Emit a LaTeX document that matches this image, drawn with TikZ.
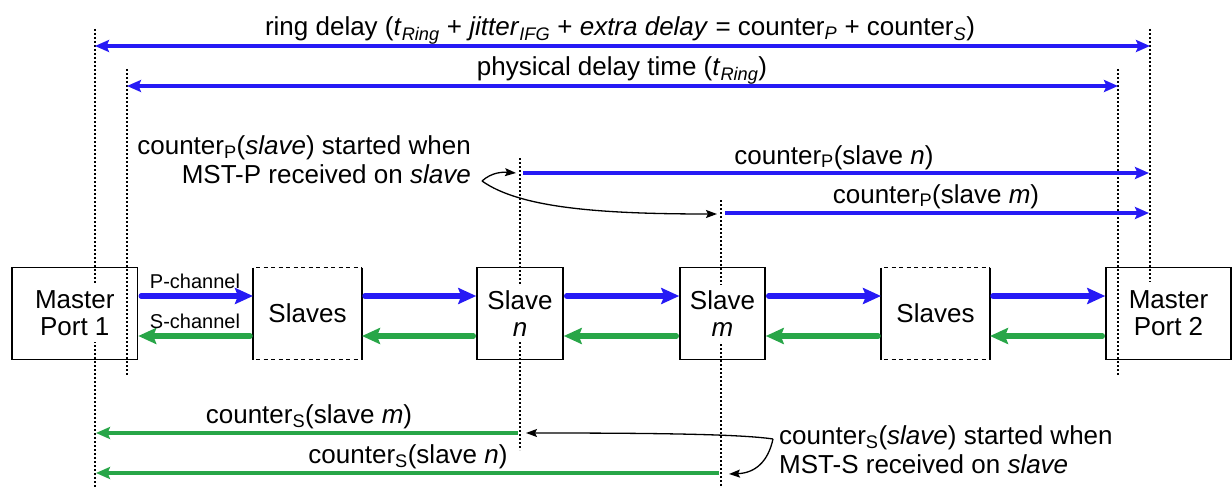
\documentclass[tikz,border=0pt]{standalone}
\usepackage{fontspec}
\setmainfont{Liberation Sans}
\usetikzlibrary{arrows.meta}
\definecolor{pblue}{RGB}{38,26,245}
\definecolor{sgreen}{RGB}{40,166,72}
\begin{document}
\begin{tikzpicture}[x=1pt,y=-1pt,
  lbl/.style={font=\fontsize{26}{29}\selectfont, inner sep=0pt, anchor=base},
  note/.style={font=\fontsize{26}{29}\selectfont, inner sep=0pt},
  chl/.style={font=\fontsize{20}{22}\selectfont, inner sep=0pt, anchor=base},
  box/.style={draw, line width=1.5pt, minimum width=#1, minimum height=92pt, inner sep=0pt},
  plainbox/.style={minimum width=#1, minimum height=92pt, inner sep=0pt, outer sep=0pt},
  btxt/.style={font=\fontsize{26}{27}\selectfont, align=center, fill=white, inner xsep=2pt, inner ysep=6pt},
  guide/.style={line width=1.1pt, dash pattern=on 2pt off 2pt},
  parr/.style={pblue, line width=5.5pt, line cap=round, shorten <=3pt, -{Stealth[length=18pt,width=16pt,inset=3pt]}},
  sarr/.style={sgreen, line width=5.5pt, line cap=round, shorten <=3pt, -{Stealth[length=18pt,width=16pt,inset=3pt]}},
  rarr/.style={pblue, line width=4pt, {Stealth[length=14pt,width=12pt,inset=2.5pt]}-{Stealth[length=14pt,width=12pt,inset=2.5pt]}},
  cparr/.style={pblue, line width=4pt, -{Stealth[length=14pt,width=12pt,inset=2.5pt]}},
  csarr/.style={sgreen, line width=4pt, -{Stealth[length=14pt,width=12pt,inset=2.5pt]}},
  karr/.style={black, line width=1.3pt, -{Stealth[length=11pt,width=8pt,inset=2pt]}}
]
\useasboundingbox (0,0) rectangle (1232,487);

% guide lines
\coordinate (g1t) at (95,29);   \coordinate (g1b) at (95,487);
\coordinate (g2t) at (127,69);  \coordinate (g2b) at (127,375);
\coordinate (g3t) at (1118,69); \coordinate (g3b) at (1118,375);
\coordinate (g4t) at (1150,29); \coordinate (g4b) at (1150,282);
\coordinate (gnt) at (520,158); \coordinate (gnb) at (520,450);
\coordinate (gmt) at (721,200); \coordinate (gmb) at (721,487);
\draw[guide] (g1t) -- (g1b);
\draw[guide] (g2t) -- (g2b);
\draw[guide] (g3t) -- (g3b);
\draw[guide] (g4t) -- (g4b);
\draw[guide] (gnt) -- (gnb);
\draw[guide] (gmt) -- (gmb);

% boxes
\node[box=125.5pt] (mp1) at (74.75,313.5) {};
\node[plainbox=109pt] (s1) at (307.5,313.5) {};
\node[box=86pt] (sn) at (520,313.5) {};
\node[box=85pt] (sm) at (722.5,313.5) {};
\node[plainbox=109pt] (s2) at (935.5,313.5) {};
\node[box=125pt] (mp2) at (1168.5,313.5) {};
\foreach \b in {s1,s2}{
  \draw[line width=1.5pt] (\b.north west) -- (\b.south west) (\b.north east) -- (\b.south east);
  \draw[line width=1.5pt, dash pattern=on 4pt off 3.5pt, dash phase=-3pt] (\b.north west) -- (\b.north east) (\b.south west) -- (\b.south east);
}
\node[btxt] (tmp1) at (mp1) {Master\\Port 1};
\node[btxt] (ts1) at (s1) {Slaves};
\node[btxt] (tsn) at (sn) {Slave\\\textit{n}};
\node[btxt] (tsm) at (sm) {Slave\\\textit{m}};
\node[btxt] (ts2) at (s2) {Slaves};
\node[btxt] (tmp2) at (mp2) {Master\\Port 2};

% channel arrows
\draw[parr] ([yshift=17.5pt]mp1.east) -- ([yshift=17.5pt]s1.west);
\draw[parr] ([yshift=17.5pt]s1.east) -- ([yshift=17.5pt]sn.west);
\draw[parr] ([yshift=17.5pt]sn.east) -- ([yshift=17.5pt]sm.west);
\draw[parr] ([yshift=17.5pt]sm.east) -- ([yshift=17.5pt]s2.west);
\draw[parr] ([yshift=17.5pt]s2.east) -- ([yshift=17.5pt]mp2.west);
\draw[sarr] ([yshift=-22.5pt]s1.west) -- ([yshift=-22.5pt]mp1.east);
\draw[sarr] ([yshift=-22.5pt]sn.west) -- ([yshift=-22.5pt]s1.east);
\draw[sarr] ([yshift=-22.5pt]sm.west) -- ([yshift=-22.5pt]sn.east);
\draw[sarr] ([yshift=-22.5pt]s2.west) -- ([yshift=-22.5pt]sm.east);
\draw[sarr] ([yshift=-22.5pt]mp2.west) -- ([yshift=-22.5pt]s2.east);
\node[chl] (pch) at (195,288) {P-channel};
\node[chl] (sch) at (195,328) {S-channel};

% top delay arrows
\coordinate (rL) at (95,46);   \coordinate (rR) at (1150,46);
\coordinate (pL) at (127,86);  \coordinate (pR) at (1118,86);
\draw[rarr] (rL) -- (rR);
\draw[rarr] (pL) -- (pR);
\node[lbl] (ringlbl) at (620,36) {ring delay (\textit{t}\textsubscript{\textit{Ring}} + \textit{jitter}\textsubscript{\textit{IFG}} + \textit{extra delay} = counter\textsubscript{\textit{P}} + counter\textsubscript{\textit{S}})};
\node[lbl] (physlbl) at (622,76) {physical delay time (\textit{t}\textsubscript{\textit{Ring}})};

% counter P arrows
\coordinate (cpnA) at (523,173); \coordinate (cpnB) at (1149,173);
\coordinate (cpmA) at (725,213); \coordinate (cpmB) at (1149,213);
\draw[cparr] (cpnA) -- (cpnB);
\draw[cparr] (cpmA) -- (cpmB);
\node[lbl] (cpnlbl) at (834,164) {counter\textsubscript{P}(slave \textit{n})};
\node[lbl] (cpmlbl) at (936,203) {counter\textsubscript{P}(slave \textit{m})};

% counter S arrows
\coordinate (csmA) at (518,433); \coordinate (csmB) at (96,433);
\coordinate (csnA) at (719,473); \coordinate (csnB) at (96,473);
\draw[csarr] (csmA) -- (csmB);
\draw[csarr] (csnA) -- (csnB);
\node[lbl] (csmlbl) at (309,423) {counter\textsubscript{S}(slave \textit{m})};
\node[lbl] (csnlbl) at (408,463) {counter\textsubscript{S}(slave \textit{n})};

% notes
\node[note, align=right, anchor=east] (cpnote) at (471,160) {counter\textsubscript{P}(\textit{slave}) started when\\MST-P received on \textit{slave}};
\node[note, align=left, anchor=west] (csnote) at (779,450) {counter\textsubscript{S}(\textit{slave}) started when\\MST-S received on \textit{slave}};

\coordinate (cpo) at (482,181);
\coordinate (cpn) at (516,173);
\coordinate (cpm) at (717,214);
\draw[karr] (cpo) .. controls (492,172) and (503,172) .. (cpn);
\draw[karr] (cpo) .. controls (520,208) and (600,214) .. (cpm);

\coordinate (cso) at (773,439);
\coordinate (csn) at (526,433);
\coordinate (csm) at (729,474);
\draw[karr] (cso) .. controls (740,434) and (650,433) .. (csn);
\draw[karr] (cso) .. controls (768,462) and (755,473) .. (csm);
\end{tikzpicture}
\end{document}
